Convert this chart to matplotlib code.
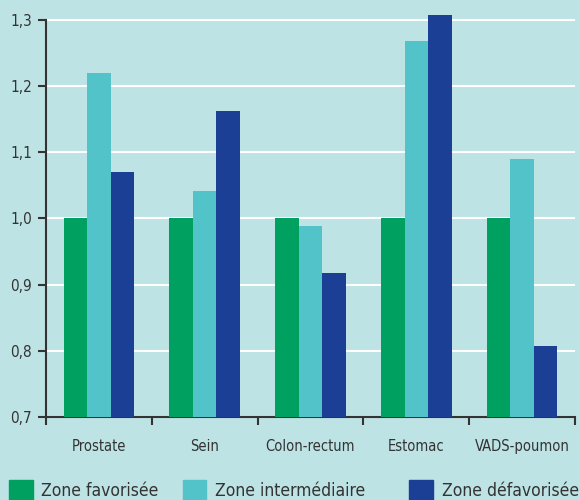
import matplotlib.pyplot as plt
import numpy as np
from matplotlib.patches import Patch

# Cancer sites and relative ratios per deprivation zone
sites = ["Prostate", "Sein", "Colon-rectum", "Estomac", "VADS-poumon"]
zone_favorisee = [1.0, 1.0, 1.0, 1.0, 1.0]
zone_intermediaire = [1.22, 1.042, 0.988, 1.268, 1.09]
zone_defavorisee = [1.07, 1.163, 0.918, 1.307, 0.808]

series = ["Zone favorisée", "Zone intermédiaire", "Zone défavorisée"]
colors = ["#00a160", "#52c3c9", "#1a3f95"]
y_ticks = [0.7, 0.8, 0.9, 1.0, 1.1, 1.2, 1.3]

bg = "#bde3e5"
ink = "#333333"
plt.rcParams["font.family"] = ["DejaVu Sans"]
plt.rcParams["font.stretch"] = "condensed"

fig = plt.figure(figsize=(5.8, 5.0), dpi=100, facecolor=bg)
ax = fig.add_axes([46 / 580, 83 / 500, 529 / 580, 410.4 / 500], facecolor=bg)

x = np.arange(len(sites))
width = 0.222
for i, (vals, col) in enumerate(zip([zone_favorisee, zone_intermediaire, zone_defavorisee], colors)):
    ax.bar(x + (i - 1) * width, np.array(vals) - 0.7, width, bottom=0.7,
           color=col, zorder=3)

ax.set_xlim(-0.5, len(sites) - 0.5)
ax.set_ylim(0.7, 1.32)
ax.set_yticks(y_ticks)
ax.set_yticklabels([f"{v:.1f}".replace(".", ",") for v in y_ticks], color=ink, fontsize=11)
ax.yaxis.grid(True, color="white", linewidth=1.5, zorder=0)

# category labels centred, ticks at the group boundaries
ax.set_xticks(np.arange(len(sites) + 1) - 0.5)
ax.set_xticklabels([])
ax.set_xticks(x, minor=True)
ax.set_xticklabels(sites, minor=True, color=ink, fontsize=10.5)
ax.tick_params(axis="x", which="minor", length=0, pad=16)
ax.tick_params(axis="x", which="major", length=6, width=1.5, color=ink)
ax.tick_params(axis="y", length=6, width=1.5, color=ink, pad=4)

for side in ["top", "right"]:
    ax.spines[side].set_visible(False)
for side in ["left", "bottom"]:
    ax.spines[side].set_color(ink)
    ax.spines[side].set_linewidth(1.5)
ax.spines["left"].set_bounds(0.7, 1.3)

# legend entries spread along the bottom
legend_x = [-0.002, 0.297, 0.688]
for name, col, lx in zip(series, colors, legend_x):
    leg = fig.legend(handles=[Patch(color=col, label=name)], loc="lower left",
                     bbox_to_anchor=(lx, -0.02), frameon=False, fontsize=12.5,
                     handlelength=1.35, handleheight=1.35, handletextpad=0.5,
                     borderaxespad=0.2, labelcolor=ink)

fig.savefig("out.png", dpi=100, facecolor=bg)
